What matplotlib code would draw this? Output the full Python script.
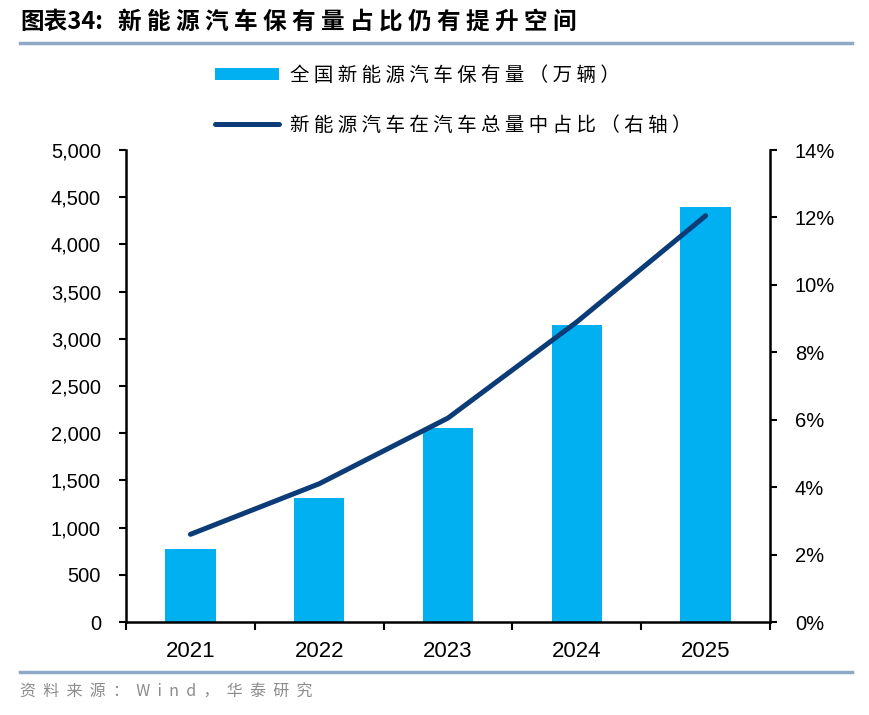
import numpy as np
import matplotlib.pyplot as plt
from matplotlib.lines import Line2D
from matplotlib.patches import Patch
from matplotlib.ticker import FuncFormatter

plt.rcParams['font.family'] = ['Liberation Sans', 'Noto Sans CJK SC', 'DejaVu Sans']

# data
years = ['2021', '2022', '2023', '2024', '2025']
nev_stock = [775, 1310, 2050, 3150, 4400]        # 万辆
nev_share = [2.6, 4.1, 6.05, 8.9, 12.05]         # %

bar_color = '#00B0F0'
line_color = '#0B3C78'
rule_color = '#8FA8C6'
cjk = ['Noto Sans CJK SC', 'Liberation Sans']


def spaced(s, gap=' '):
    # the source pdf uses wide letter spacing
    return gap.join(s)


fig = plt.figure(figsize=(8.7, 7.15), dpi=100)
ax = fig.add_axes([126 / 870, 1 - 622 / 715, (770 - 126) / 870, (622 - 150) / 715])
ax2 = ax.twinx()

x = np.arange(len(years))
ax.bar(x, nev_stock, width=0.39, color=bar_color, zorder=2)
ax2.plot(x, nev_share, color=line_color, lw=3.6, solid_capstyle='round', zorder=3)

ax.set_xlim(-0.5, len(years) - 0.5)
ax.set_ylim(0, 5000)
ax.set_yticks(np.arange(0, 5001, 500))
ax.yaxis.set_major_formatter(FuncFormatter(lambda v, p: f'{v:,.0f}'))
ax2.set_ylim(0, 14)
ax2.set_yticks(np.arange(0, 15, 2))
ax2.yaxis.set_major_formatter(FuncFormatter(lambda v, p: f'{v:.0f}%'))

ax.set_xticks(np.arange(-0.5, len(years), 1.0))
ax.set_xticklabels([])
ax.set_xticks(x, minor=True)
ax.set_xticklabels(years, minor=True)
ax.tick_params(axis='x', which='minor', length=0, pad=14, labelsize=16)
ax.tick_params(axis='x', which='major', length=6, width=1.5, direction='out')
ax.tick_params(axis='y', length=5, width=1.5, direction='out', labelsize=14.5, pad=13)
ax2.tick_params(axis='y', length=5, width=1.5, direction='out', labelsize=14.5, pad=13)

for a in (ax, ax2):
    a.spines['top'].set_visible(False)
    for s in ('left', 'right', 'bottom'):
        a.spines[s].set_linewidth(1.8)
ax.spines['right'].set_visible(False)
ax2.spines['left'].set_visible(False)
ax2.spines['bottom'].set_visible(False)

handles = [Patch(facecolor=bar_color, edgecolor='none'),
           Line2D([0], [0], color=line_color, lw=3.6, solid_capstyle='round')]
labels = [spaced('全国新能源汽车保有量（万辆）'),
          spaced('新能源汽车在汽车总量中占比（右轴）')]
fig.legend(handles, labels, loc='upper left', bbox_to_anchor=(207 / 870, 1 - 57 / 715),
           frameon=False, prop={'family': cjk, 'size': 14}, handlelength=3.3,
           handleheight=0.62, handletextpad=0.55, labelspacing=1.5, borderaxespad=0)

# title and rules
fig.text(20 / 870, 1 - 22 / 715, '图表34:', family=cjk, fontsize=17,
         fontweight='bold', va='center', ha='left')
fig.text(118 / 870, 1 - 22 / 715, spaced('新能源汽车保有量占比仍有提升空间'),
         family=cjk, fontsize=17, fontweight='bold', va='center', ha='left')
fig.add_artist(Line2D([20 / 870, 852 / 870], [1 - 43 / 715] * 2, color=rule_color, lw=2.5))
fig.add_artist(Line2D([20 / 870, 852 / 870], [1 - 672 / 715] * 2, color=rule_color, lw=2.5))
fig.text(20 / 870, 1 - 692 / 715, spaced('资料来源：Wind，华泰研究', '  '), family=cjk,
         fontsize=11.5, color='#8C8C8C', va='center', ha='left')

fig.savefig('out.png', dpi=100)
